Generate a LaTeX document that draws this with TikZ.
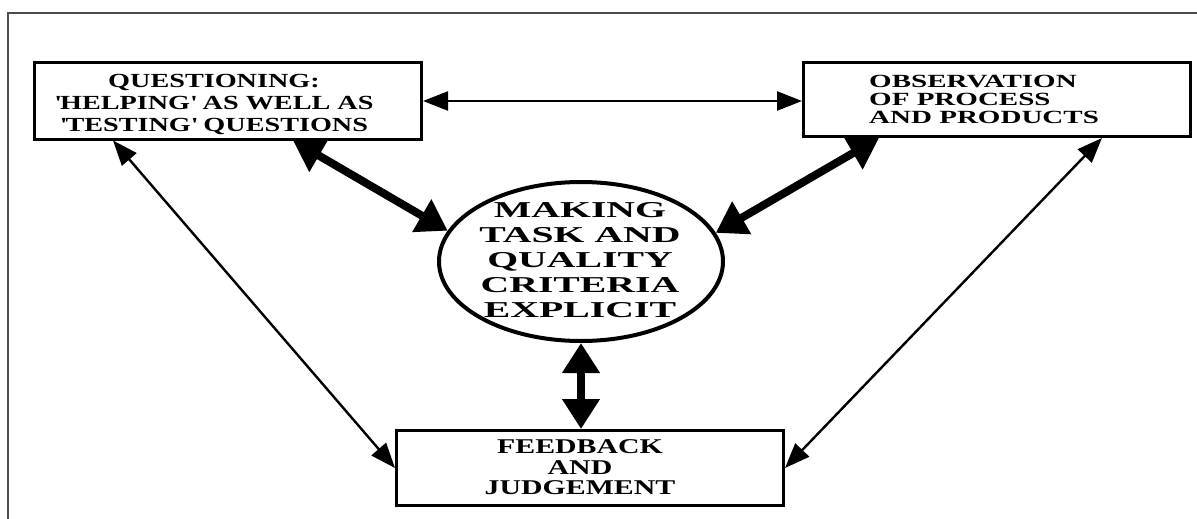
\documentclass[tikz,border=0pt]{standalone}
\usepackage{fontspec}
\usetikzlibrary{arrows.meta,shapes.geometric}
% Wide serif capitals for the labels
\newfontfamily\qfont{Liberation Serif}[FakeStretch=1.41]
\newfontfamily\ofont{Liberation Serif}[FakeStretch=1.56]
\newfontfamily\mfont{Liberation Serif}[FakeStretch=1.75]
\newfontfamily\ffont{Liberation Serif}[FakeStretch=1.42]
\tikzset{
  box/.style={draw, rectangle, line width=3pt, inner sep=0pt},
  oval/.style={draw, ellipse, line width=4pt, inner sep=0pt},
  lbl/.style={inner sep=0pt, align=center},
  linkthin/.style={line width=2.4pt,
    {Triangle[length=25pt,width=19pt]}-{Triangle[length=25pt,width=19pt]}},
  linkbold/.style={line width=8pt,
    {Triangle[length=30pt,width=36pt]}-{Triangle[length=30pt,width=36pt]}},
  frameline/.style={line width=2.5pt, draw=black!70}
}
\begin{document}
\begin{tikzpicture}[x=1pt,y=-1pt]
\useasboundingbox (0,0) rectangle (1197,519);
\fill[white] (0,0) rectangle (1197,519);

% outer frame (top and left edges)
\draw[frameline] (8,519) -- (8,13) -- (1197,13);

% boxes and ellipse
\node[box, minimum width=387pt, minimum height=76pt] (q) at (228,101) {};
\node[lbl, font=\qfont\bfseries\fontsize{20}{21.7}\selectfont] (qt) at (214,104.5)
  {QUESTIONING:\\\textquotesingle HELPING\textquotesingle{} AS WELL AS\\\textquotesingle TESTING\textquotesingle{} QUESTIONS};

\node[box, minimum width=387pt, minimum height=74pt] (o) at (997,99.5) {};
\node[lbl, align=left, anchor=west, font=\ofont\bfseries\fontsize{18.6}{18.3}\selectfont] (ot) at (869,99.5)
  {OBSERVATION\\OF PROCESS\\AND PRODUCTS};

\node[oval, minimum width=284pt, minimum height=159pt] (m) at (581,261.5) {};
\node[lbl, font=\mfont\bfseries\fontsize{22.7}{25}\selectfont] (mt) at (580,260.5)
  {MAKING\\TASK AND\\QUALITY\\CRITERIA\\EXPLICIT};

\node[box, minimum width=387pt, minimum height=75pt] (f) at (590,468) {};
\node[lbl, font=\ffont\bfseries\fontsize{21}{20.5}\selectfont] (ft) at (580,467.5)
  {FEEDBACK\\AND\\JUDGEMENT};

% connectors
\draw[linkthin] (q.east) -- (q.east -| o.west);
\draw[linkthin] ([xshift=80pt]q.south west) -- (f.west);
\draw[linkthin] ([xshift=-90pt]o.south east) -- (f.east);
\draw[linkbold] ([xshift=260pt]q.south west) -- (m.167.6);
\draw[linkbold] ([xshift=77pt]o.south west) -- (m.12);
\draw[linkbold] (m.south) -- (m.south |- f.north);
\end{tikzpicture}
\end{document}
